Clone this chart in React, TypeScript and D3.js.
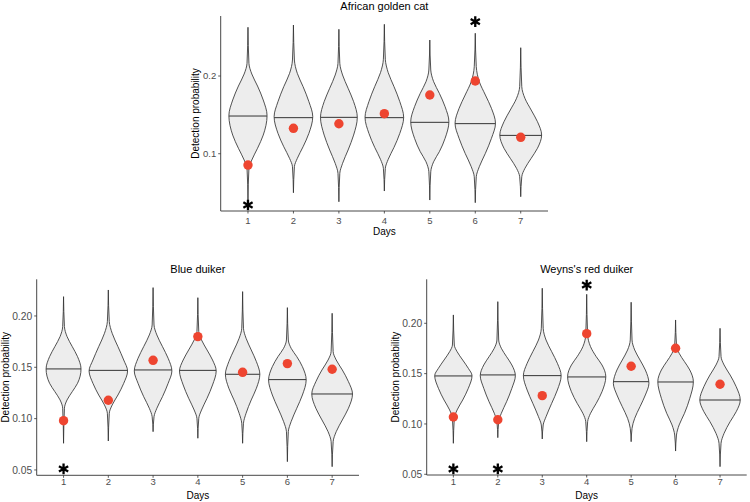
import React from "react";
import * as d3 from "d3";

// ---------- data ----------
const days = ["1", "2", "3", "4", "5", "6", "7"];
// relative half-width of the violin at each knot (low tail -> mode -> high tail)
const knotWidths = [0, 0.05, 0.2, 0.5, 0.8, 1, 0.8, 0.5, 0.2, 0.05, 0];

// African golden cat
const catProfiles = [
  [0.0404, 0.0812, 0.0919, 0.107, 0.124, 0.149, 0.1691, 0.1871, 0.2026, 0.2163, 0.2627],
  [0.0498, 0.0833, 0.094, 0.109, 0.1262, 0.1477, 0.167, 0.1863, 0.2034, 0.2206, 0.2656],
  [0.0382, 0.0748, 0.0876, 0.1048, 0.124, 0.1468, 0.167, 0.1842, 0.2013, 0.2163, 0.2601],
  [0.052, 0.0812, 0.0928, 0.1082, 0.1262, 0.1468, 0.167, 0.1863, 0.2043, 0.2215, 0.2665],
  [0.0404, 0.0768, 0.0897, 0.1026, 0.1198, 0.1412, 0.1605, 0.1777, 0.1927, 0.2077, 0.2463],
  [0.037, 0.0704, 0.0833, 0.1005, 0.1198, 0.1391, 0.1584, 0.1755, 0.1927, 0.212, 0.255],
  [0.0447, 0.0704, 0.0812, 0.0941, 0.107, 0.124, 0.1412, 0.1562, 0.1713, 0.1863, 0.2364],
];
const catMedians = [0.1485, 0.1464, 0.1468, 0.1464, 0.1404, 0.1387, 0.1236];
const catObserved = [0.0854, 0.1327, 0.1386, 0.1515, 0.1755, 0.1936, 0.1211];
const catWidths = [0.84, 0.85, 0.81, 0.85, 0.84, 0.89, 0.92];
const catStarDays = ["1", "6"];
const catStarValues = [0.034, 0.2699];
const catTicks = [0.1, 0.2];
const catTickLabels = ["0.1", "0.2"];

// Blue duiker
const blueProfiles = [
  [0.076, 0.1101, 0.1182, 0.1263, 0.1344, 0.1484, 0.1604, 0.1701, 0.1799, 0.1896, 0.2188],
  [0.0782, 0.1052, 0.1133, 0.123, 0.1344, 0.1464, 0.1571, 0.1701, 0.1831, 0.1945, 0.2253],
  [0.0873, 0.1019, 0.1101, 0.1214, 0.1344, 0.1464, 0.1588, 0.1701, 0.1815, 0.1912, 0.2276],
  [0.0809, 0.1003, 0.1084, 0.1198, 0.1328, 0.1464, 0.1571, 0.1669, 0.1766, 0.1847, 0.2178],
  [0.076, 0.0955, 0.1052, 0.1182, 0.1296, 0.1432, 0.1555, 0.1669, 0.1783, 0.188, 0.2237],
  [0.0581, 0.0873, 0.0971, 0.1101, 0.123, 0.1377, 0.1506, 0.1604, 0.1685, 0.1766, 0.2081],
  [0.0532, 0.0776, 0.0873, 0.0987, 0.1101, 0.124, 0.136, 0.1474, 0.1571, 0.1652, 0.2026],
];
const blueMedians = [0.1484, 0.147, 0.1474, 0.147, 0.1432, 0.138, 0.124];
const blueObserved = [0.098, 0.1179, 0.1568, 0.1799, 0.1451, 0.1536, 0.1481];
const blueWidths = [0.78, 0.86, 0.84, 0.82, 0.77, 0.84, 0.91];
const blueStarDays = ["1"];
const blueStarValues = [0.051];
const duikerTicks = [0.05, 0.1, 0.15, 0.2];
const duikerTickLabels = ["0.05", "0.10", "0.15", "0.20"];

// Weyns's red duiker
const redProfiles = [
  [0.0808, 0.1056, 0.1139, 0.1238, 0.1354, 0.148, 0.1553, 0.1635, 0.1718, 0.1784, 0.2083],
  [0.0864, 0.1023, 0.1106, 0.1221, 0.1354, 0.148, 0.1586, 0.1668, 0.1752, 0.1834, 0.2215],
  [0.0851, 0.099, 0.1072, 0.1205, 0.1337, 0.148, 0.1603, 0.1718, 0.1834, 0.195, 0.2348],
  [0.0824, 0.1023, 0.1106, 0.1205, 0.132, 0.147, 0.1586, 0.1668, 0.1768, 0.1884, 0.2288],
  [0.0824, 0.0957, 0.1056, 0.1172, 0.1288, 0.1404, 0.1536, 0.1635, 0.1735, 0.1834, 0.2209],
  [0.0731, 0.089, 0.099, 0.1106, 0.1255, 0.142, 0.1536, 0.1619, 0.1702, 0.1784, 0.2033],
  [0.0576, 0.0808, 0.0907, 0.1023, 0.1122, 0.1238, 0.137, 0.1486, 0.1586, 0.1668, 0.195],
];
const redMedians = [0.1477, 0.1487, 0.148, 0.1467, 0.142, 0.1417, 0.1238];
const redObserved = [0.1069, 0.1042, 0.1281, 0.1897, 0.1573, 0.1752, 0.1394];
const redWidths = [0.84, 0.79, 0.85, 0.86, 0.8, 0.8, 0.91];
const redStarDays = ["1", "2", "4"];
const redStarValues = [0.0553, 0.0553, 0.238];

// ---------- styling ----------
const FONT = "'Liberation Sans', Arial, Helvetica, sans-serif";
const VIOLIN_FILL = "#ededed";
const LINE = "#333333";
const POINT = "#ee4530";
const TICK_TEXT = "#4d4d4d";

type PanelProps = {
  id: string;
  title: string;
  x0: number;
  x1: number;
  yTop: number;
  yBottom: number;
  domain: [number, number];
  profiles: number[][];
  medians: number[];
  observed: number[];
  widths: number[];
  starDays: string[];
  starValues: number[];
  ticks: number[];
  tickLabels: string[];
  titleY: number;
  tickLabelY: number;
  xTitleY: number;
  yTitleX: number;
  yTickFont: number;
  xTickFont: number;
};

function violinPath(
  profile: number[],
  cx: number,
  half: number,
  y: d3.ScaleLinear<number, number>
): string {
  const knots = profile.map((v, k) => [v, knotWidths[k]] as [number, number]).reverse();
  return d3
    .area<[number, number]>()
    .y((k) => y(k[0]))
    .x0((k) => cx - k[1] * half)
    .x1((k) => cx + k[1] * half)
    .curve(d3.curveMonotoneY)(knots) as string;
}

function Panel(p: PanelProps) {
  const x = d3.scalePoint<string>().domain(days).range([p.x0, p.x1]).padding(0.6);
  const y = d3.scaleLinear().domain(p.domain).range([p.yBottom, p.yTop]);
  const step = x.step();
  const star = d3.symbol().type(d3.symbolAsterisk).size(80)() as string;
  const cxTitle = (p.x0 + p.x1) / 2;
  const cyAxis = (p.yTop + p.yBottom) / 2;

  return (
    <g>
      <defs>
        {days.map((d, i) => (
          <clipPath id={`${p.id}-clip-${i}`} key={d}>
            <path d={violinPath(p.profiles[i], x(d)!, (p.widths[i] * step) / 2, y)} />
          </clipPath>
        ))}
      </defs>
      {days.map((d, i) => {
        const cx = x(d)!;
        const half = (p.widths[i] * step) / 2;
        const ym = y(p.medians[i]);
        return (
          <g key={d}>
            <path d={violinPath(p.profiles[i], cx, half, y)} fill={VIOLIN_FILL} stroke={LINE} strokeWidth={0.85} />
            <line
              x1={cx - half - 2}
              x2={cx + half + 2}
              y1={ym}
              y2={ym}
              stroke={LINE}
              strokeWidth={1}
              clipPath={`url(#${p.id}-clip-${i})`}
            />
          </g>
        );
      })}
      {days.map((d, i) => (
        <circle key={d} cx={x(d)!} cy={y(p.observed[i])} r={4.7} fill={POINT} />
      ))}
      {p.starDays.map((d, i) => (
        <path
          key={d + i}
          d={star}
          transform={`translate(${x(d)!},${y(p.starValues[i])})`}
          fill="none"
          stroke="#000"
          strokeWidth={2.3}
        />
      ))}
      {/* axes */}
      <line x1={p.x0} x2={p.x0} y1={p.yTop} y2={p.yBottom} stroke="#333" strokeWidth={0.9} />
      <line x1={p.x0} x2={p.x1} y1={p.yBottom} y2={p.yBottom} stroke="#333" strokeWidth={0.9} />
      {p.ticks.map((t, i) => (
        <g key={t}>
          <line x1={p.x0 - 2.5} x2={p.x0} y1={y(t)} y2={y(t)} stroke="#333" strokeWidth={0.8} />
          <text
            x={p.x0 - 4.5}
            y={y(t)}
            dy="0.35em"
            textAnchor="end"
            fontSize={p.yTickFont}
            fill={TICK_TEXT}
            fontFamily={FONT}
          >
            {p.tickLabels[i]}
          </text>
        </g>
      ))}
      {days.map((d) => (
        <g key={d}>
          <line x1={x(d)!} x2={x(d)!} y1={p.yBottom} y2={p.yBottom + 2.5} stroke="#333" strokeWidth={0.8} />
          <text x={x(d)!} y={p.tickLabelY} textAnchor="middle" fontSize={p.xTickFont} fill={TICK_TEXT} fontFamily={FONT}>
            {d}
          </text>
        </g>
      ))}
      <text x={cxTitle} y={p.xTitleY} textAnchor="middle" fontSize={10} fill="#000" fontFamily={FONT}>
        Days
      </text>
      <text
        transform={`translate(${p.yTitleX},${cyAxis}) rotate(-90)`}
        textAnchor="middle"
        fontSize={10}
        fill="#000"
        fontFamily={FONT}
      >
        Detection probability
      </text>
      <text x={cxTitle} y={p.titleY} textAnchor="middle" fontSize={11} fill="#000" fontFamily={FONT}>
        {p.title}
      </text>
    </g>
  );
}

export default function App() {
  return (
    <svg
      width={750}
      height={502}
      viewBox="0 0 750 502"
      style={{ position: "absolute", left: 0, top: 0, background: "#fff" }}
    >
      <rect width={750} height={502} fill="#fff" />
      <Panel
        id="cat"
        title="African golden cat"
        x0={220.7}
        x1={548}
        yTop={16}
        yBottom={211}
        domain={[0.0263, 0.2772]}
        profiles={catProfiles}
        medians={catMedians}
        observed={catObserved}
        widths={catWidths}
        starDays={catStarDays}
        starValues={catStarValues}
        ticks={catTicks}
        tickLabels={catTickLabels}
        titleY={9.6}
        tickLabelY={224}
        xTitleY={235}
        yTitleX={198.5}
        yTickFont={9.5}
        xTickFont={9.5}
      />
      <Panel
        id="blue"
        title="Blue duiker"
        x0={36.7}
        x1={359}
        yTop={279.3}
        yBottom={475.3}
        domain={[0.0448, 0.2357]}
        profiles={blueProfiles}
        medians={blueMedians}
        observed={blueObserved}
        widths={blueWidths}
        starDays={blueStarDays}
        starValues={blueStarValues}
        ticks={duikerTicks}
        tickLabels={duikerTickLabels}
        titleY={273.3}
        tickLabelY={485.3}
        xTitleY={499.3}
        yTitleX={8.5}
        yTickFont={10.3}
        xTickFont={9.5}
      />
      <Panel
        id="red"
        title="Weyns's red duiker"
        x0={426.7}
        x1={746.7}
        yTop={279.3}
        yBottom={475}
        domain={[0.0493, 0.2437]}
        profiles={redProfiles}
        medians={redMedians}
        observed={redObserved}
        widths={redWidths}
        starDays={redStarDays}
        starValues={redStarValues}
        ticks={duikerTicks}
        tickLabels={duikerTickLabels}
        titleY={273.3}
        tickLabelY={485.3}
        xTitleY={499.3}
        yTitleX={398.5}
        yTickFont={10.3}
        xTickFont={9.5}
      />
    </svg>
  );
}
